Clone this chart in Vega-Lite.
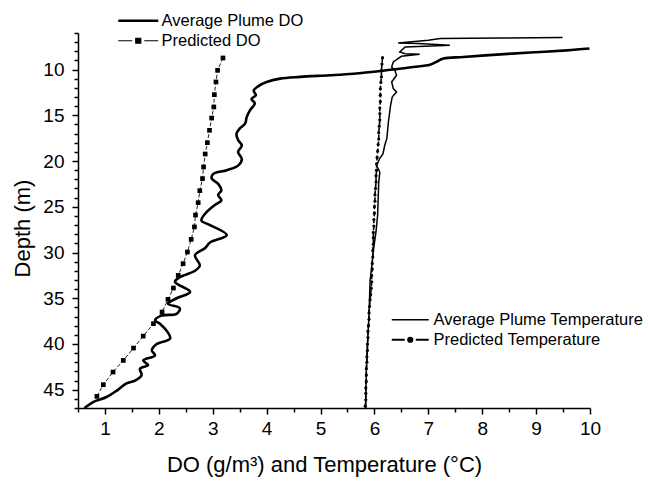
{
  "$schema": "https://vega.github.io/schema/vega-lite/v6.json",
  "width": 512,
  "height": 375,
  "autosize": {"type": "none"},
  "padding": {"left": 78, "top": 33, "right": 58, "bottom": 75},
  "background": "white",
  "config": {
    "view": {"stroke": null},
    "font": "Liberation Sans",
    "axis": {"grid": false, "domainColor": "black", "domainWidth": 1.5, "tickColor": "black", "tickWidth": 1.5, "labelColor": "black", "titleColor": "black", "labelFont": "Liberation Sans", "titleFont": "Liberation Sans", "labelFontSize": 19, "titleFontSize": 22, "titleFontWeight": "normal", "labelFlush": false, "labelOverlap": false},
    "legend": {"labelFont": "Liberation Sans", "labelFontSize": 16.5, "labelColor": "black", "padding": 0, "symbolSize": 100, "labelOffset": 15, "labelLimit": 400, "title": null, "orient": "none"}
  },
  "datasets": {
    "dodata": [
      {"series": "Average Plume DO", "x": 9.99, "depth": 7.70},
      {"series": "Average Plume DO", "x": 9.57, "depth": 7.90},
      {"series": "Average Plume DO", "x": 8.89, "depth": 8.14},
      {"series": "Average Plume DO", "x": 8.27, "depth": 8.36},
      {"series": "Average Plume DO", "x": 7.65, "depth": 8.62},
      {"series": "Average Plume DO", "x": 7.28, "depth": 8.80},
      {"series": "Average Plume DO", "x": 7.12, "depth": 9.24},
      {"series": "Average Plume DO", "x": 7.03, "depth": 9.46},
      {"series": "Average Plume DO", "x": 6.72, "depth": 9.72},
      {"series": "Average Plume DO", "x": 6.47, "depth": 9.90},
      {"series": "Average Plume DO", "x": 6.16, "depth": 10.12},
      {"series": "Average Plume DO", "x": 5.61, "depth": 10.45},
      {"series": "Average Plume DO", "x": 5.17, "depth": 10.62},
      {"series": "Average Plume DO", "x": 4.62, "depth": 10.80},
      {"series": "Average Plume DO", "x": 4.25, "depth": 10.99},
      {"series": "Average Plume DO", "x": 4.00, "depth": 11.36},
      {"series": "Average Plume DO", "x": 3.84, "depth": 11.83},
      {"series": "Average Plume DO", "x": 3.76, "depth": 12.30},
      {"series": "Average Plume DO", "x": 3.80, "depth": 12.80},
      {"series": "Average Plume DO", "x": 3.72, "depth": 13.20},
      {"series": "Average Plume DO", "x": 3.78, "depth": 13.70},
      {"series": "Average Plume DO", "x": 3.69, "depth": 14.45},
      {"series": "Average Plume DO", "x": 3.63, "depth": 15.20},
      {"series": "Average Plume DO", "x": 3.60, "depth": 15.90},
      {"series": "Average Plume DO", "x": 3.50, "depth": 16.45},
      {"series": "Average Plume DO", "x": 3.44, "depth": 17.00},
      {"series": "Average Plume DO", "x": 3.47, "depth": 17.70},
      {"series": "Average Plume DO", "x": 3.54, "depth": 18.30},
      {"series": "Average Plume DO", "x": 3.47, "depth": 19.00},
      {"series": "Average Plume DO", "x": 3.54, "depth": 19.80},
      {"series": "Average Plume DO", "x": 3.47, "depth": 20.50},
      {"series": "Average Plume DO", "x": 3.26, "depth": 21.00},
      {"series": "Average Plume DO", "x": 3.01, "depth": 21.40},
      {"series": "Average Plume DO", "x": 2.98, "depth": 21.90},
      {"series": "Average Plume DO", "x": 3.10, "depth": 22.50},
      {"series": "Average Plume DO", "x": 3.16, "depth": 23.20},
      {"series": "Average Plume DO", "x": 3.10, "depth": 23.70},
      {"series": "Average Plume DO", "x": 3.16, "depth": 24.30},
      {"series": "Average Plume DO", "x": 3.04, "depth": 24.80},
      {"series": "Average Plume DO", "x": 2.86, "depth": 25.75},
      {"series": "Average Plume DO", "x": 2.79, "depth": 26.50},
      {"series": "Average Plume DO", "x": 2.95, "depth": 27.00},
      {"series": "Average Plume DO", "x": 3.26, "depth": 28.10},
      {"series": "Average Plume DO", "x": 2.95, "depth": 28.90},
      {"series": "Average Plume DO", "x": 2.86, "depth": 29.50},
      {"series": "Average Plume DO", "x": 2.67, "depth": 30.30},
      {"series": "Average Plume DO", "x": 2.76, "depth": 31.40},
      {"series": "Average Plume DO", "x": 2.67, "depth": 32.00},
      {"series": "Average Plume DO", "x": 2.39, "depth": 32.70},
      {"series": "Average Plume DO", "x": 2.30, "depth": 33.20},
      {"series": "Average Plume DO", "x": 2.58, "depth": 34.30},
      {"series": "Average Plume DO", "x": 2.33, "depth": 35.00},
      {"series": "Average Plume DO", "x": 2.17, "depth": 35.60},
      {"series": "Average Plume DO", "x": 2.39, "depth": 36.10},
      {"series": "Average Plume DO", "x": 2.33, "depth": 36.70},
      {"series": "Average Plume DO", "x": 2.05, "depth": 36.90},
      {"series": "Average Plume DO", "x": 1.93, "depth": 37.40},
      {"series": "Average Plume DO", "x": 2.02, "depth": 37.80},
      {"series": "Average Plume DO", "x": 2.11, "depth": 38.30},
      {"series": "Average Plume DO", "x": 2.21, "depth": 39.40},
      {"series": "Average Plume DO", "x": 1.96, "depth": 40.00},
      {"series": "Average Plume DO", "x": 1.87, "depth": 40.70},
      {"series": "Average Plume DO", "x": 1.93, "depth": 41.25},
      {"series": "Average Plume DO", "x": 1.71, "depth": 41.80},
      {"series": "Average Plume DO", "x": 1.80, "depth": 42.30},
      {"series": "Average Plume DO", "x": 1.65, "depth": 42.70},
      {"series": "Average Plume DO", "x": 1.68, "depth": 43.40},
      {"series": "Average Plume DO", "x": 1.56, "depth": 44.00},
      {"series": "Average Plume DO", "x": 1.40, "depth": 44.30},
      {"series": "Average Plume DO", "x": 1.22, "depth": 45.10},
      {"series": "Average Plume DO", "x": 1.03, "depth": 45.80},
      {"series": "Average Plume DO", "x": 0.78, "depth": 46.35},
      {"series": "Average Plume DO", "x": 0.62, "depth": 47.00},
      {"series": "Predicted DO", "x": 3.19, "depth": 8.73},
      {"series": "Predicted DO", "x": 3.09, "depth": 10.08},
      {"series": "Predicted DO", "x": 3.06, "depth": 11.35},
      {"series": "Predicted DO", "x": 3.03, "depth": 12.74},
      {"series": "Predicted DO", "x": 3.02, "depth": 14.09},
      {"series": "Predicted DO", "x": 2.98, "depth": 15.30},
      {"series": "Predicted DO", "x": 2.94, "depth": 16.64},
      {"series": "Predicted DO", "x": 2.90, "depth": 17.99},
      {"series": "Predicted DO", "x": 2.86, "depth": 19.23},
      {"series": "Predicted DO", "x": 2.83, "depth": 20.65},
      {"series": "Predicted DO", "x": 2.81, "depth": 21.92},
      {"series": "Predicted DO", "x": 2.76, "depth": 23.24},
      {"series": "Predicted DO", "x": 2.73, "depth": 24.55},
      {"series": "Predicted DO", "x": 2.68, "depth": 25.90},
      {"series": "Predicted DO", "x": 2.66, "depth": 27.20},
      {"series": "Predicted DO", "x": 2.60, "depth": 28.56},
      {"series": "Predicted DO", "x": 2.53, "depth": 29.95},
      {"series": "Predicted DO", "x": 2.45, "depth": 31.22},
      {"series": "Predicted DO", "x": 2.36, "depth": 32.50},
      {"series": "Predicted DO", "x": 2.27, "depth": 33.89},
      {"series": "Predicted DO", "x": 2.17, "depth": 35.12},
      {"series": "Predicted DO", "x": 2.06, "depth": 36.51},
      {"series": "Predicted DO", "x": 1.90, "depth": 37.78},
      {"series": "Predicted DO", "x": 1.71, "depth": 39.14},
      {"series": "Predicted DO", "x": 1.53, "depth": 40.45},
      {"series": "Predicted DO", "x": 1.34, "depth": 41.80},
      {"series": "Predicted DO", "x": 1.15, "depth": 43.07},
      {"series": "Predicted DO", "x": 0.97, "depth": 44.45},
      {"series": "Predicted DO", "x": 0.85, "depth": 45.73}
    ],
    "tempdata": [
      {"series": "Average Plume Temperature", "x": 9.49, "depth": 6.50},
      {"series": "Average Plume Temperature", "x": 8.36, "depth": 6.54},
      {"series": "Average Plume Temperature", "x": 7.22, "depth": 6.61},
      {"series": "Average Plume Temperature", "x": 7.00, "depth": 6.80},
      {"series": "Average Plume Temperature", "x": 6.44, "depth": 7.09},
      {"series": "Average Plume Temperature", "x": 6.81, "depth": 7.16},
      {"series": "Average Plume Temperature", "x": 7.40, "depth": 7.34},
      {"series": "Average Plume Temperature", "x": 6.94, "depth": 7.45},
      {"series": "Average Plume Temperature", "x": 6.57, "depth": 7.53},
      {"series": "Average Plume Temperature", "x": 6.47, "depth": 8.08},
      {"series": "Average Plume Temperature", "x": 6.57, "depth": 8.27},
      {"series": "Average Plume Temperature", "x": 6.84, "depth": 8.33},
      {"series": "Average Plume Temperature", "x": 6.50, "depth": 8.55},
      {"series": "Average Plume Temperature", "x": 6.35, "depth": 9.17},
      {"series": "Average Plume Temperature", "x": 6.32, "depth": 9.72},
      {"series": "Average Plume Temperature", "x": 6.38, "depth": 10.08},
      {"series": "Average Plume Temperature", "x": 6.41, "depth": 10.62},
      {"series": "Average Plume Temperature", "x": 6.32, "depth": 11.36},
      {"series": "Average Plume Temperature", "x": 6.35, "depth": 12.08},
      {"series": "Average Plume Temperature", "x": 6.41, "depth": 12.45},
      {"series": "Average Plume Temperature", "x": 6.33, "depth": 13.00},
      {"series": "Average Plume Temperature", "x": 6.30, "depth": 13.90},
      {"series": "Average Plume Temperature", "x": 6.26, "depth": 15.70},
      {"series": "Average Plume Temperature", "x": 6.23, "depth": 17.55},
      {"series": "Average Plume Temperature", "x": 6.19, "depth": 18.30},
      {"series": "Average Plume Temperature", "x": 6.16, "depth": 19.20},
      {"series": "Average Plume Temperature", "x": 6.10, "depth": 19.70},
      {"series": "Average Plume Temperature", "x": 6.04, "depth": 20.50},
      {"series": "Average Plume Temperature", "x": 6.10, "depth": 21.20},
      {"series": "Average Plume Temperature", "x": 6.08, "depth": 22.30},
      {"series": "Average Plume Temperature", "x": 6.07, "depth": 24.10},
      {"series": "Average Plume Temperature", "x": 6.06, "depth": 25.90},
      {"series": "Average Plume Temperature", "x": 6.03, "depth": 27.70},
      {"series": "Average Plume Temperature", "x": 5.98, "depth": 29.80},
      {"series": "Average Plume Temperature", "x": 5.95, "depth": 31.50},
      {"series": "Average Plume Temperature", "x": 5.92, "depth": 33.10},
      {"series": "Average Plume Temperature", "x": 5.90, "depth": 36.70},
      {"series": "Average Plume Temperature", "x": 5.87, "depth": 40.30},
      {"series": "Average Plume Temperature", "x": 5.85, "depth": 42.90},
      {"series": "Average Plume Temperature", "x": 5.84, "depth": 45.80},
      {"series": "Average Plume Temperature", "x": 5.84, "depth": 47.00},
      {"series": "Predicted Temperature", "x": 6.15, "depth": 8.7},
      {"series": "Predicted Temperature", "x": 6.14, "depth": 9.4},
      {"series": "Predicted Temperature", "x": 6.13, "depth": 10.1},
      {"series": "Predicted Temperature", "x": 6.13, "depth": 10.8},
      {"series": "Predicted Temperature", "x": 6.12, "depth": 11.4},
      {"series": "Predicted Temperature", "x": 6.11, "depth": 12.1},
      {"series": "Predicted Temperature", "x": 6.11, "depth": 12.8},
      {"series": "Predicted Temperature", "x": 6.11, "depth": 13.5},
      {"series": "Predicted Temperature", "x": 6.10, "depth": 14.2},
      {"series": "Predicted Temperature", "x": 6.10, "depth": 14.8},
      {"series": "Predicted Temperature", "x": 6.10, "depth": 15.5},
      {"series": "Predicted Temperature", "x": 6.09, "depth": 16.2},
      {"series": "Predicted Temperature", "x": 6.08, "depth": 16.9},
      {"series": "Predicted Temperature", "x": 6.08, "depth": 17.6},
      {"series": "Predicted Temperature", "x": 6.07, "depth": 18.2},
      {"series": "Predicted Temperature", "x": 6.06, "depth": 18.9},
      {"series": "Predicted Temperature", "x": 6.05, "depth": 19.6},
      {"series": "Predicted Temperature", "x": 6.04, "depth": 20.3},
      {"series": "Predicted Temperature", "x": 6.04, "depth": 21.0},
      {"series": "Predicted Temperature", "x": 6.03, "depth": 21.6},
      {"series": "Predicted Temperature", "x": 6.03, "depth": 22.3},
      {"series": "Predicted Temperature", "x": 6.02, "depth": 23.0},
      {"series": "Predicted Temperature", "x": 6.01, "depth": 23.7},
      {"series": "Predicted Temperature", "x": 6.01, "depth": 24.4},
      {"series": "Predicted Temperature", "x": 6.00, "depth": 25.0},
      {"series": "Predicted Temperature", "x": 6.00, "depth": 25.7},
      {"series": "Predicted Temperature", "x": 5.99, "depth": 26.4},
      {"series": "Predicted Temperature", "x": 5.99, "depth": 27.1},
      {"series": "Predicted Temperature", "x": 5.98, "depth": 27.8},
      {"series": "Predicted Temperature", "x": 5.98, "depth": 28.4},
      {"series": "Predicted Temperature", "x": 5.98, "depth": 29.1},
      {"series": "Predicted Temperature", "x": 5.97, "depth": 29.8},
      {"series": "Predicted Temperature", "x": 5.97, "depth": 30.5},
      {"series": "Predicted Temperature", "x": 5.96, "depth": 31.2},
      {"series": "Predicted Temperature", "x": 5.96, "depth": 31.8},
      {"series": "Predicted Temperature", "x": 5.95, "depth": 32.5},
      {"series": "Predicted Temperature", "x": 5.95, "depth": 33.2},
      {"series": "Predicted Temperature", "x": 5.94, "depth": 33.9},
      {"series": "Predicted Temperature", "x": 5.93, "depth": 34.6},
      {"series": "Predicted Temperature", "x": 5.92, "depth": 35.2},
      {"series": "Predicted Temperature", "x": 5.91, "depth": 35.9},
      {"series": "Predicted Temperature", "x": 5.90, "depth": 36.6},
      {"series": "Predicted Temperature", "x": 5.90, "depth": 37.3},
      {"series": "Predicted Temperature", "x": 5.89, "depth": 38.0},
      {"series": "Predicted Temperature", "x": 5.88, "depth": 38.6},
      {"series": "Predicted Temperature", "x": 5.88, "depth": 39.3},
      {"series": "Predicted Temperature", "x": 5.87, "depth": 40.0},
      {"series": "Predicted Temperature", "x": 5.87, "depth": 40.7},
      {"series": "Predicted Temperature", "x": 5.86, "depth": 41.4},
      {"series": "Predicted Temperature", "x": 5.86, "depth": 42.0},
      {"series": "Predicted Temperature", "x": 5.85, "depth": 42.7},
      {"series": "Predicted Temperature", "x": 5.85, "depth": 43.4},
      {"series": "Predicted Temperature", "x": 5.85, "depth": 44.1},
      {"series": "Predicted Temperature", "x": 5.84, "depth": 44.8},
      {"series": "Predicted Temperature", "x": 5.84, "depth": 45.4},
      {"series": "Predicted Temperature", "x": 5.84, "depth": 46.1},
      {"series": "Predicted Temperature", "x": 5.83, "depth": 46.8}
    ]
  },
  "encoding": {
    "x": {"field": "x", "type": "quantitative",
      "scale": {"domain": [0.5, 10], "nice": false, "zero": false},
      "axis": {"title": "DO (g/m³) and Temperature (°C)",
        "values": [0.5,1,1.5,2,2.5,3,3.5,4,4.5,5,5.5,6,6.5,7,7.5,8,8.5,9,9.5,10],
        "labelExpr": "datum.value % 1 === 0 ? format(datum.value, 'd') : ''",
        "tickSize": {"condition": {"test": "datum.value % 1 === 0", "value": 6}, "value": 4},
        "labelPadding": 5, "titlePadding": 16, "titleX": 246}},
    "y": {"field": "depth", "type": "quantitative",
      "scale": {"domain": [6, 47], "nice": false, "zero": false, "reverse": true},
      "axis": {"title": "Depth (m)",
        "values": [6,7,8,9,10,11,12,13,14,15,16,17,18,19,20,21,22,23,24,25,26,27,28,29,30,31,32,33,34,35,36,37,38,39,40,41,42,43,44,45,46,47],
        "labelExpr": "datum.value % 5 === 0 ? datum.label : ''",
        "tickSize": {"condition": {"test": "datum.value % 5 === 0", "value": 6}, "value": 4},
        "labelPadding": 8, "titlePadding": 8, "titleY": 195}},
    "order": {"field": "depth", "type": "quantitative"}
  },
  "layer": [
    {
      "data": {"name": "dodata"},
      "transform": [{"filter": "datum.series === 'Average Plume DO'"}],
      "mark": {"type": "line", "color": "black", "strokeWidth": 2.6, "interpolate": "catmull-rom", "clip": true}
    },
    {
      "data": {"name": "dodata"},
      "transform": [{"filter": "datum.series === 'Predicted DO'"}],
      "mark": {"type": "line", "color": "#222", "strokeWidth": 1, "strokeDash": [4, 2], "clip": true}
    },
    {
      "data": {"name": "dodata"},
      "transform": [{"filter": "datum.series === 'Predicted DO'"}],
      "mark": {"type": "square", "color": "black", "filled": true, "size": 22, "opacity": 1}
    },
    {
      "data": {"name": "tempdata"},
      "transform": [{"filter": "datum.series === 'Average Plume Temperature'"}],
      "mark": {"type": "line", "color": "black", "strokeWidth": 1.5, "clip": true}
    },
    {
      "data": {"name": "tempdata"},
      "transform": [{"filter": "datum.series === 'Predicted Temperature'"}],
      "mark": {"type": "line", "color": "black", "strokeWidth": 1.6, "strokeDash": [5, 2], "clip": true}
    },
    {
      "data": {"name": "tempdata"},
      "transform": [{"filter": "datum.series === 'Predicted Temperature'"}],
      "mark": {"type": "circle", "color": "black", "size": 10, "opacity": 1}
    },
    {
      "data": {"name": "dodata"},
      "transform": [{"filter": "false"}],
      "mark": {"type": "point", "shape": "M-4,0H4", "fill": "black", "stroke": "black", "strokeWidth": 2.5, "size": 100, "filled": true},
      "encoding": {"opacity": {"field": "series", "type": "nominal", "scale": {"domain": ["Average Plume DO"], "range": [1]},
        "legend": {"legendX": 52, "legendY": -20.5, "symbolStrokeWidth": 2.6}}}
    },
    {
      "data": {"name": "dodata"},
      "transform": [{"filter": "false"}],
      "mark": {"type": "point", "shape": "M-4,0H-1.2M1.2,0H4M-0.5,-0.5H0.5V0.5H-0.5Z", "fill": "black", "stroke": "black", "strokeWidth": 1.2, "size": 100, "filled": true},
      "encoding": {"opacity": {"field": "series", "type": "nominal", "scale": {"domain": ["Predicted DO"], "range": [1]},
        "legend": {"legendX": 52, "legendY": -0.5, "symbolStrokeWidth": 1.2}}}
    },
    {
      "data": {"name": "tempdata"},
      "transform": [{"filter": "false"}],
      "mark": {"type": "point", "shape": "M-3.7,0H3.7", "fill": "black", "stroke": "black", "strokeWidth": 1.6, "size": 100, "filled": true},
      "encoding": {"opacity": {"field": "series", "type": "nominal", "scale": {"domain": ["Average Plume Temperature"], "range": [1]},
        "legend": {"legendX": 324, "legendY": 278.5, "symbolStrokeWidth": 1.6}}}
    },
    {
      "data": {"name": "tempdata"},
      "transform": [{"filter": "false"}],
      "mark": {"type": "point", "shape": "M-3.7,0H-1.1M1.1,0H3.7M-0.4,0A0.4,0.4 0 1,0 0.4,0A0.4,0.4 0 1,0 -0.4,0Z", "fill": "black", "stroke": "black", "strokeWidth": 2.2, "size": 100, "filled": true},
      "encoding": {"opacity": {"field": "series", "type": "nominal", "scale": {"domain": ["Predicted Temperature"], "range": [1]},
        "legend": {"legendX": 324, "legendY": 298.5, "symbolStrokeWidth": 2.2}}}
    }
  ],
  "resolve": {"scale": {"opacity": "independent"}, "legend": {"opacity": "independent"}}
}
